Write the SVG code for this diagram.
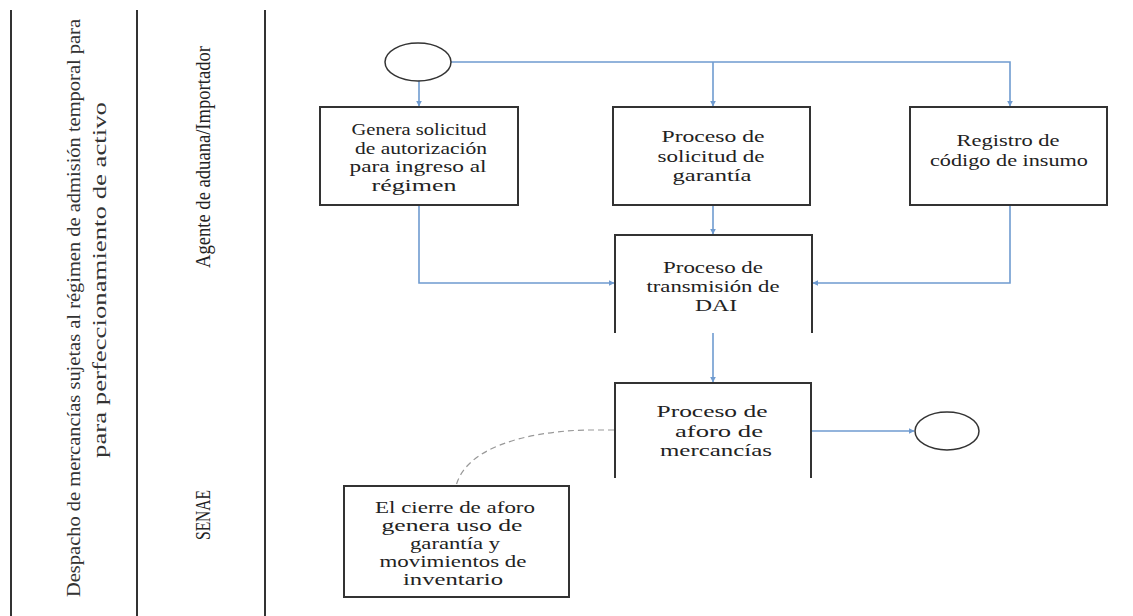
<svg xmlns="http://www.w3.org/2000/svg" width="1133" height="616" viewBox="0 0 1133 616">
<defs>
<style>
.lane{stroke:#333;stroke-width:2;fill:none}
.box{fill:#fff;stroke:#333;stroke-width:2}
.open{fill:none;stroke:#333;stroke-width:2}
.ell{fill:#fff;stroke:#333;stroke-width:1.5}
.t{font-family:"Liberation Serif","Times New Roman",serif;font-size:17px;fill:#222;text-anchor:middle}
.lt{font-family:"Liberation Serif","Times New Roman",serif;font-size:19px;fill:#333;text-anchor:middle}
.lb{font-family:"Liberation Serif","Times New Roman",serif;font-size:20px;fill:#222;text-anchor:middle}
.c{fill:none;stroke:#6f9bd0;stroke-width:1.6}
.d{fill:none;stroke:#999;stroke-width:1.2;stroke-dasharray:6 4}
</style>
<marker id="ah" viewBox="0 0 10 10" refX="9" refY="5" markerWidth="6" markerHeight="6" orient="auto" markerUnits="userSpaceOnUse">
<path d="M0,0 L10,5 L0,10 z" fill="#6f9bd0"/>
</marker>
</defs>
<rect width="1133" height="616" fill="#fff"/>
<g id="lanes">
<line class="lane" x1="11" y1="10" x2="11" y2="616"/>
<line class="lane" x1="137" y1="10" x2="137" y2="616"/>
<line class="lane" x1="265" y1="10" x2="265" y2="616"/>
<text class="lt" transform="translate(80,308) rotate(-90)" textLength="578" lengthAdjust="spacingAndGlyphs">Despacho de mercancías sujetas al régimen de admisión temporal para</text>
<text class="lt" transform="translate(106,280) rotate(-90)" textLength="356" lengthAdjust="spacingAndGlyphs">para perfeccionamiento de activo</text>
<text class="lb" transform="translate(210,157) rotate(-90)" textLength="222" lengthAdjust="spacingAndGlyphs">Agente de aduana/Importador</text>
<text class="lb" transform="translate(210,515) rotate(-90)" textLength="50" lengthAdjust="spacingAndGlyphs">SENAE</text>
</g>
<g id="connectors">
<path class="c" d="M451,62 H1010 V106" marker-end="url(#ah)"/>
<path class="c" d="M419,81 V106" marker-end="url(#ah)"/>
<path class="c" d="M713,62 V106" marker-end="url(#ah)"/>
<path class="c" d="M419,205 V283 H614" marker-end="url(#ah)"/>
<path class="c" d="M713,205 V234" marker-end="url(#ah)"/>
<path class="c" d="M1010,205 V283 H813" marker-end="url(#ah)"/>
<path class="c" d="M713,333 V382" marker-end="url(#ah)"/>
<path class="c" d="M812,431 H914" marker-end="url(#ah)"/>
<path class="d" d="M614,430 H585 C520,432 465,450 456,486"/>
</g>
<g id="start"><ellipse class="ell" cx="418" cy="62" rx="33" ry="19"/></g>
<g id="n1">
<rect class="box" x="320" y="107" width="198" height="98"/>
<text class="t"><tspan x="419" y="135" textLength="135" lengthAdjust="spacingAndGlyphs">Genera solicitud</tspan><tspan x="421" y="154" textLength="132" lengthAdjust="spacingAndGlyphs">de autorización</tspan><tspan x="418" y="172" textLength="137" lengthAdjust="spacingAndGlyphs">para ingreso al</tspan><tspan x="414" y="191" textLength="85" lengthAdjust="spacingAndGlyphs">régimen</tspan></text>
</g>
<g id="n2">
<rect class="box" x="613" y="107" width="197" height="98"/>
<text class="t"><tspan x="713" y="142" textLength="103" lengthAdjust="spacingAndGlyphs">Proceso de</tspan><tspan x="711" y="162" textLength="107" lengthAdjust="spacingAndGlyphs">solicitud de</tspan><tspan x="712" y="181" textLength="79" lengthAdjust="spacingAndGlyphs">garantía</tspan></text>
</g>
<g id="n3">
<rect class="box" x="910" y="107" width="197" height="98"/>
<text class="t"><tspan x="1008" y="146" textLength="103" lengthAdjust="spacingAndGlyphs">Registro de</tspan><tspan x="1009" y="166" textLength="158" lengthAdjust="spacingAndGlyphs">código de insumo</tspan></text>
</g>
<g id="n4">
<path class="open" d="M615,333 V235 H812 V333"/>
<text class="t"><tspan x="713" y="273" textLength="100" lengthAdjust="spacingAndGlyphs">Proceso de</tspan><tspan x="713" y="292" textLength="133" lengthAdjust="spacingAndGlyphs">transmisión de</tspan><tspan x="716" y="311" textLength="42" lengthAdjust="spacingAndGlyphs">DAI</tspan></text>
</g>
<g id="n5">
<path class="open" d="M615,478 V383 H811 V478"/>
<text class="t"><tspan x="712" y="417" textLength="111" lengthAdjust="spacingAndGlyphs">Proceso  de</tspan><tspan x="719" y="437" textLength="88" lengthAdjust="spacingAndGlyphs">aforo de</tspan><tspan x="716" y="456" textLength="112" lengthAdjust="spacingAndGlyphs">mercancías</tspan></text>
</g>
<g id="end"><ellipse class="ell" cx="947" cy="431" rx="32" ry="19"/></g>
<g id="n6">
<rect class="box" x="344" y="486" width="225" height="111"/>
<text class="t"><tspan x="455" y="513" textLength="160" lengthAdjust="spacingAndGlyphs">El cierre de aforo</tspan><tspan x="452" y="531" textLength="141" lengthAdjust="spacingAndGlyphs">genera uso de</tspan><tspan x="455" y="549" textLength="90" lengthAdjust="spacingAndGlyphs">garantía y</tspan><tspan x="453" y="567" textLength="147" lengthAdjust="spacingAndGlyphs">movimientos de</tspan><tspan x="453" y="585" textLength="100" lengthAdjust="spacingAndGlyphs">inventario</tspan></text>
</g>
</svg>
